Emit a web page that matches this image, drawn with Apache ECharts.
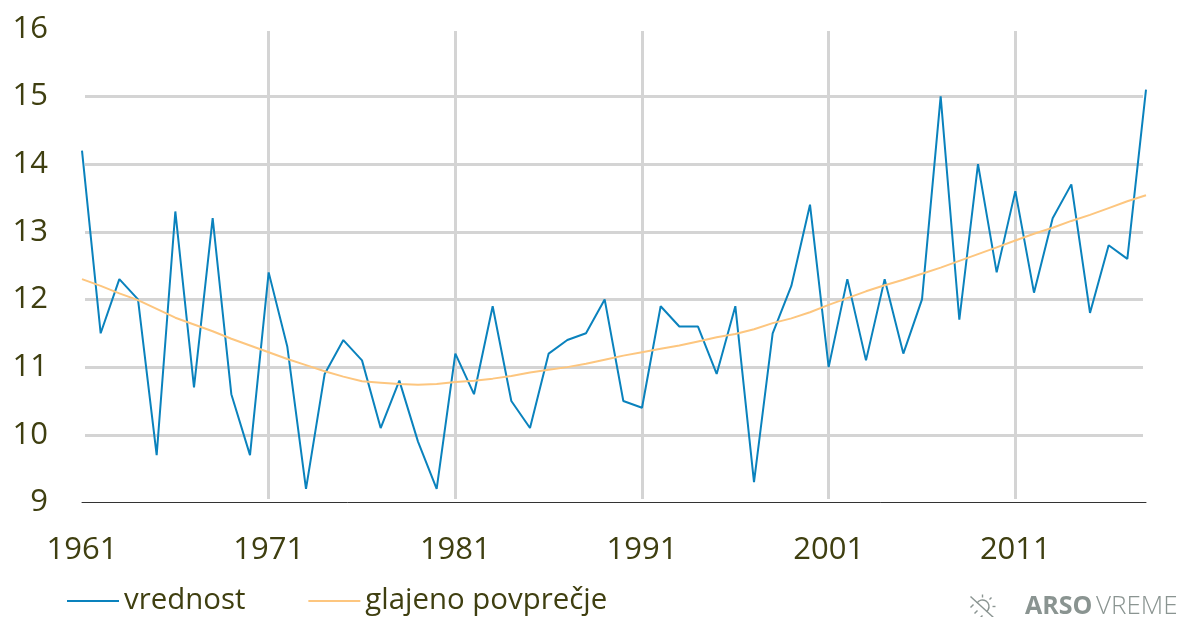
<!DOCTYPE html>
<html><head><meta charset="utf-8">
<script src="https://cdn.jsdelivr.net/npm/echarts@6/dist/echarts.min.js"></script>
<style>html,body{margin:0;padding:0;background:#fff}#c{width:1185px;height:617px}</style>
</head><body><div id="c"></div>
<script>
const years = [];
for (let y = 1961; y <= 2018; y++) years.push(String(y));
const vrednost = [14.2,11.5,12.3,12.0,9.7,13.3,10.7,13.2,10.6,9.7,12.4,11.3,9.2,10.9,11.4,11.1,10.1,10.8,9.9,9.2,11.2,10.6,11.9,10.5,10.1,11.2,11.4,11.5,12.0,10.5,10.4,11.9,11.6,11.6,10.9,11.9,9.3,11.5,12.2,13.4,11.0,12.3,11.1,12.3,11.2,12.0,15.0,11.7,14.0,12.4,13.6,12.1,13.2,13.7,11.8,12.8,12.6,15.1];
const glajeno = [12.3,12.2,12.09,11.99,11.86,11.73,11.63,11.53,11.42,11.32,11.22,11.12,11.03,10.94,10.86,10.79,10.77,10.75,10.74,10.75,10.78,10.8,10.83,10.87,10.92,10.96,11.0,11.05,11.11,11.17,11.22,11.27,11.32,11.38,11.44,11.49,11.56,11.65,11.72,11.81,11.92,12.02,12.12,12.21,12.29,12.38,12.47,12.57,12.67,12.77,12.87,12.97,13.06,13.16,13.25,13.35,13.45,13.54];
const names = ['vrednost','glajeno povprečje'];
const textColor = '#3f3f10', gridColor = '#d4d4d4', font = '"Open Sans"', logo = '#8a9491';
const chart = echarts.init(document.getElementById('c'), null, {renderer:'canvas'});
const H = 617, W = 1185;
const iconLine = (x1,y1,x2,y2) => ({type:'line',shape:{x1,y1,x2,y2},style:{stroke:logo,lineWidth:1.4}});
chart.setOption({
  animation:false,
  backgroundColor:'#fff',
  textStyle:{fontFamily:font},
  grid:[
    {left:82, right:W-1146, top:28.7, bottom:H-502.5},
    {left:85, right:W-1143, top:28.7, bottom:H-502.5},
    {left:82, right:W-1146, top:31, bottom:H-499}
  ],
  xAxis:[
    {gridIndex:0,type:'category',data:years,boundaryGap:false,
     axisLine:{show:true,lineStyle:{color:'#333',width:1}},axisTick:{show:false},splitLine:{show:false},
     axisLabel:{interval:9,color:textColor,fontSize:31,fontFamily:font,margin:32}},
    {gridIndex:1,type:'category',data:years,show:false},
    {gridIndex:2,type:'category',data:years,boundaryGap:false,
     axisLine:{show:false},axisTick:{show:false},axisLabel:{show:false},
     splitLine:{show:true,interval:9,showMinLine:false,lineStyle:{color:gridColor,width:3}}}
  ],
  yAxis:[
    {gridIndex:0,type:'value',min:9,max:16,interval:1,
     axisLine:{show:false},axisTick:{show:false},splitLine:{show:false},
     axisLabel:{color:textColor,fontSize:31,fontFamily:font,align:'right',margin:34}},
    {gridIndex:1,type:'value',min:9,max:16,interval:1,
     axisLine:{show:false},axisTick:{show:false},axisLabel:{show:false},
     splitLine:{show:true,showMinLine:false,showMaxLine:false,lineStyle:{color:gridColor,width:3}}},
    {gridIndex:2,type:'value',min:9,max:16,show:false,splitLine:{show:false}}
  ],
  legend:{
    left:67, top:581, itemGap:63, itemWidth:52, itemHeight:2, padding:0, icon:'rect',
    textStyle:{color:textColor,fontSize:29.4,fontFamily:font,lineHeight:40},
    data:names.map(n=>({name:n}))
  },
  series:[
    {name:names[0],type:'line',xAxisIndex:0,yAxisIndex:0,data:vrednost,symbol:'none',z:3,clip:false,
     lineStyle:{color:'#0a82bd',width:2},itemStyle:{color:'#0a82bd'}},
    {name:names[1],type:'line',xAxisIndex:0,yAxisIndex:0,data:glajeno,symbol:'none',z:4,clip:false,
     lineStyle:{color:'#fdc67f',width:2},itemStyle:{color:'#fdc67f'}}
  ],
  graphic:[
    {type:'group',left:968,top:592,children:[
      iconLine(1,2,24,23),
      {type:'arc',shape:{cx:13,cy:12,r:6.5,startAngle:-2.6,endAngle:0.9},style:{stroke:logo,lineWidth:1.4,fill:null}},
      iconLine(13,0,13,3),iconLine(22,3,20,5),iconLine(26,12,23,12),
      iconLine(1,13,4,10),iconLine(5,19,8,16),iconLine(10,24,13,21)
    ]},
    {type:'text',left:1025,top:594,style:{text:'ARSO',fontFamily:font,fontSize:25,fontWeight:'bold',fill:logo}},
    {type:'text',left:1096,top:594,style:{text:'VREME',fontFamily:font,fontSize:26,fontWeight:300,fill:logo}}
  ]
});
</script></body></html>
